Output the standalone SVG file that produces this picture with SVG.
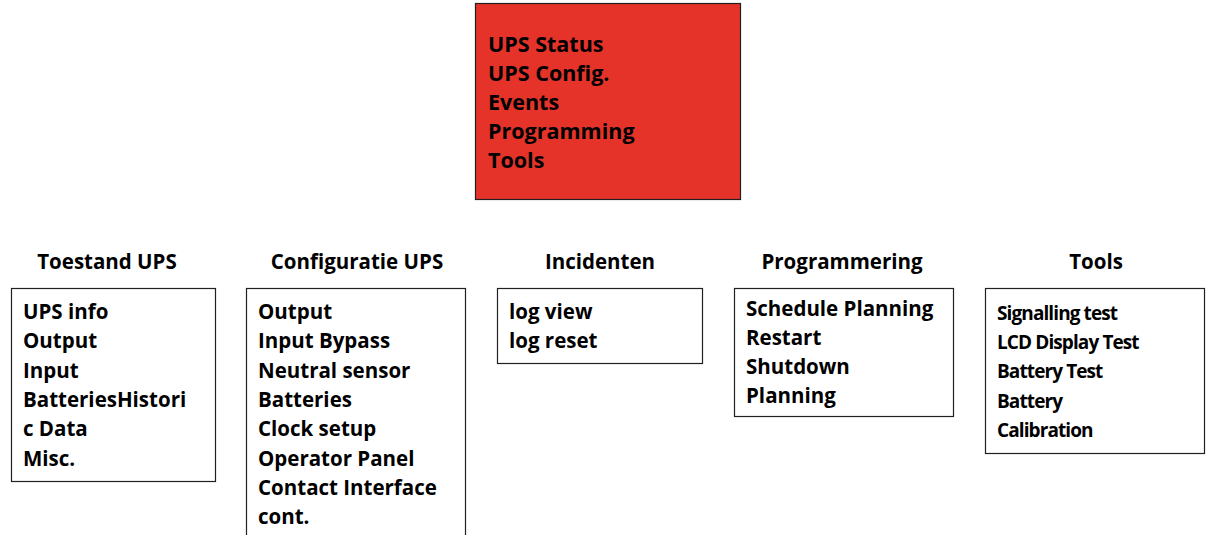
<svg xmlns="http://www.w3.org/2000/svg" width="1211" height="535" viewBox="0 0 1211 535">
<style>
text{font-family:"Open Sans",Lato,"Liberation Sans",sans-serif;font-weight:700;font-size:20.5px;fill:#000}
.h{text-anchor:middle}
.m{font-size:21.5px}
.box{fill:#fff;stroke:#231f20;stroke-width:1.2}
.main{fill:#e5332a;stroke:#231f20;stroke-width:1.2}
.t{font-size:19px;letter-spacing:-0.9px}
</style>
<rect width="1211" height="535" fill="#fff"/>
<g id="main">
<rect class="main" x="475.5" y="3.5" width="265" height="196"/>
<text class="m" x="488" y="52">UPS Status</text>
<text class="m" x="488" y="81">UPS Config.</text>
<text class="m" x="488" y="110">Events</text>
<text class="m" x="488" y="139">Programming</text>
<text class="m" x="488" y="168">Tools</text>
</g>
<g id="toestand">
<text class="h" x="107" y="269">Toestand UPS</text>
<rect class="box" x="11.5" y="288.5" width="204" height="193"/>
<text x="23" y="319">UPS info</text>
<text x="23" y="348">Output</text>
<text x="23" y="378">Input</text>
<text x="23" y="407">BatteriesHistori</text>
<text x="23" y="436">c Data</text>
<text x="23" y="466">Misc.</text>
</g>
<g id="configuratie">
<text class="h" x="357" y="269">Configuratie UPS</text>
<rect class="box" x="246.5" y="288.5" width="219" height="260"/>
<text x="258" y="319">Output</text>
<text x="258" y="348">Input Bypass</text>
<text x="258" y="378">Neutral sensor</text>
<text x="258" y="407">Batteries</text>
<text x="258" y="436">Clock setup</text>
<text x="258" y="466">Operator Panel</text>
<text x="258" y="495">Contact Interface</text>
<text x="258" y="524">cont.</text>
</g>
<g id="incidenten">
<text class="h" x="600" y="269">Incidenten</text>
<rect class="box" x="497.5" y="288.5" width="205" height="75"/>
<text x="509" y="319">log view</text>
<text x="509" y="348">log reset</text>
</g>
<g id="programmering">
<text class="h" x="842" y="269">Programmering</text>
<rect class="box" x="734.5" y="288.5" width="219" height="128"/>
<text x="746" y="316">Schedule Planning</text>
<text x="746" y="345">Restart</text>
<text x="746" y="374">Shutdown</text>
<text x="746" y="403">Planning</text>
</g>
<g id="tools">
<text class="h" x="1096" y="269">Tools</text>
<rect class="box" x="985.5" y="288.5" width="219" height="165"/>
<text class="t" x="997" y="320">Signalling test</text>
<text class="t" x="997" y="349">LCD Display Test</text>
<text class="t" x="997" y="378">Battery Test</text>
<text class="t" x="997" y="408">Battery</text>
<text class="t" x="997" y="437">Calibration</text>
</g>
<g id="connectors"></g>
</svg>
